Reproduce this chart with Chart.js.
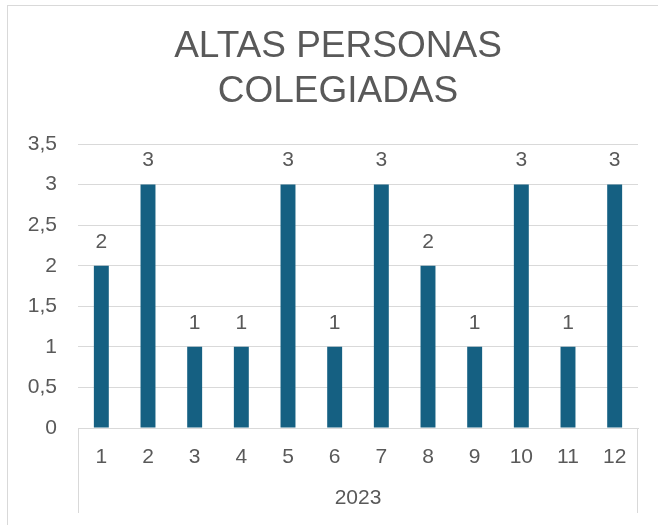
<!DOCTYPE html>
<html>
<head>
<meta charset="utf-8">
<script src="https://cdn.jsdelivr.net/npm/chart.js@4"></script>
<style>
  body { margin: 0; background: #fff; }
  #frame { position: absolute; left: 7px; top: 5px; width: 700px; height: 600px; border: 1px solid #d9d9d9; }
  #chart { position: absolute; left: 0; top: 0; }
</style>
</head>
<body>
<div id="frame"></div>
<canvas id="chart" width="658" height="525"></canvas>
<script>
// datos del gráfico
var meses = ["1", "2", "3", "4", "5", "6", "7", "8", "9", "10", "11", "12"];
var anio = "2023";
var altas = [2, 3, 1, 1, 3, 1, 3, 2, 1, 3, 1, 3];
var titulo = ["ALTAS PERSONAS", "COLEGIADAS"];

var gris = "#595959";
var fuente = "'Liberation Sans', Arial, sans-serif";

// etiquetas de valor encima de cada barra
var etiquetas = {
    id: "etiquetas",
    afterDatasetsDraw: function (chart) {
        var ctx = chart.ctx;
        var meta = chart.getDatasetMeta(0);
        ctx.save();
        ctx.font = "21px " + fuente;
        ctx.fillStyle = gris;
        ctx.textAlign = "center";
        ctx.textBaseline = "middle";
        meta.data.forEach(function (bar, i) {
            ctx.fillText(String(altas[i]), bar.x, bar.y - 24);
        });
        ctx.restore();
    }
};

// título centrado como en Excel (algo a la derecha del centro del lienzo)
var tituloExcel = {
    id: "tituloExcel",
    afterDraw: function (chart) {
        var ctx = chart.ctx;
        var cx = (chart.width + 18) / 2;
        ctx.save();
        ctx.font = "37px " + fuente;
        ctx.fillStyle = gris;
        ctx.textAlign = "center";
        ctx.textBaseline = "middle";
        titulo.forEach(function (linea, i) {
            ctx.fillText(linea, cx, 47 + i * 45);
        });
        ctx.restore();
    }
};

// líneas verticales del eje de categorías agrupado
var grupo = {
    id: "grupo",
    afterDraw: function (chart) {
        var x = chart.scales.x;
        var ctx = chart.ctx;
        ctx.save();
        ctx.strokeStyle = "#d9d9d9";
        ctx.lineWidth = 1;
        ctx.beginPath();
        ctx.moveTo(Math.round(x.left) + 0.5, x.top);
        ctx.lineTo(Math.round(x.left) + 0.5, x.bottom);
        ctx.moveTo(Math.round(x.right) - 0.5, x.top);
        ctx.lineTo(Math.round(x.right) - 0.5, x.bottom);
        ctx.stroke();
        ctx.restore();
    }
};

new Chart(document.getElementById("chart"), {
    type: 'bar',
    data: {
        labels: meses,
        datasets: [{
            label: "Altas",
            data: altas,
            backgroundColor: "#156082",
            barPercentage: 0.32,
            categoryPercentage: 1
        }]
    },
    options: {
        responsive: false,
        animation: false,
        devicePixelRatio: 1,
        layout: { padding: { left: 0, right: 20, top: 144, bottom: 12 } },
        plugins: {
            legend: { display: false },
            tooltip: { enabled: false },
            title: { display: false }
        },
        scales: {
            x: {
                afterFit: function (scale) { scale.height = 85; },
                grid: { display: false, drawTicks: false },
                border: { display: true, color: "#d9d9d9" },
                ticks: {
                    color: gris,
                    padding: 17,
                    font: { family: fuente, size: 21 }
                },
                title: {
                    display: true,
                    text: anio,
                    color: gris,
                    font: { family: fuente, size: 21 },
                    padding: { top: 0, bottom: 2 }
                }
            },
            y: {
                min: 0,
                max: 3.5,
                afterFit: function (scale) { scale.width = 78; },
                border: { display: false },
                grid: { color: "#d9d9d9", drawTicks: false },
                ticks: {
                    stepSize: 0.5,
                    color: gris,
                    padding: 21,
                    font: { family: fuente, size: 21 },
                    callback: function (v) { return String(v).replace(".", ","); }
                }
            }
        }
    },
    plugins: [etiquetas, tituloExcel, grupo]
});
</script>
</body>
</html>
